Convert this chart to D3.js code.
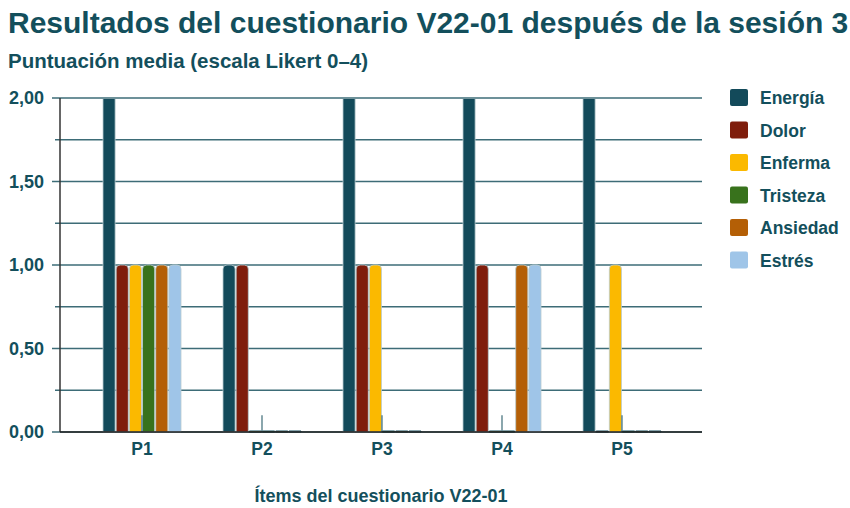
<!DOCTYPE html>
<html>
<head>
<meta charset="utf-8">
<script src="https://cdn.jsdelivr.net/npm/d3@7"></script>
<style>
  body { margin: 0; background: #fff; }
  text { font-family: "Liberation Sans", Arial, sans-serif; font-weight: bold; fill: #134f5c; }
</style>
</head>
<body>
<script>
let width = 850
let height = 508

// data (Energía bars run past the top of the axis)
let items = ["P1", "P2", "P3", "P4", "P5"]
let series = ["Energía", "Dolor", "Enferma", "Tristeza", "Ansiedad", "Estrés"]
let colors = ["#134a5a", "#7f1d0c", "#fbb900", "#38721c", "#b45f06", "#9fc5e8"]
let energia  = [3, 1, 3, 3, 3]
let dolor    = [1, 1, 1, 1, 0]
let enferma  = [1, 0, 1, 0, 1]
let tristeza = [1, 0, 0, 0, 0]
let ansiedad = [1, 0, 0, 1, 0]
let estres   = [1, 0, 0, 1, 0]
let yTicks = [0, 0.5, 1, 1.5, 2]
let yMinor = [0.25, 0.75, 1.25, 1.75]

let values = [energia, dolor, enferma, tristeza, ansiedad, estres]

let svg = d3.select("body")
    .append("svg")
    .attr("width", width)
    .attr("height", height)

let pLeft = 60, pRight = 702, pTop = 98, pBottom = 432

let x = d3.scaleBand()
    .domain(items)
    .range([81, 681])

let xs = d3.scaleBand()
    .domain(series)
    .range([0, 78])
    .paddingInner(0.08)

let y = d3.scaleLinear()
    .domain([0, 2])
    .range([pBottom, pTop])

// title
svg.append("text")
    .attr("x", 8).attr("y", 33)
    .attr("font-size", 30)
    .text("Resultados del cuestionario V22-01 después de la sesión 3")

svg.append("text")
    .attr("x", 8).attr("y", 68)
    .attr("font-size", 20.5)
    .text("Puntuación media (escala Likert 0–4)")

// grid lines
svg.selectAll(".major")
    .data(yTicks)
    .enter()
    .append("line")
    .attr("x1", 52).attr("x2", pRight)
    .attr("y1", d => y(d)).attr("y2", d => y(d))
    .attr("stroke", "#3d6c77")
    .attr("stroke-width", 1.5)

svg.selectAll(".minor")
    .data(yMinor)
    .enter()
    .append("line")
    .attr("x1", 55).attr("x2", pRight)
    .attr("y1", d => y(d)).attr("y2", d => y(d))
    .attr("stroke", "#3d6c77")
    .attr("stroke-width", 1.5)

svg.selectAll(".ylab")
    .data(yTicks)
    .enter()
    .append("text")
    .attr("x", 44)
    .attr("y", d => y(d) + 6)
    .attr("text-anchor", "end")
    .attr("font-size", 18)
    .text(d => d3.format(".2f")(d).replace(".", ","))

svg.append("clipPath").attr("id", "plot")
    .append("rect")
    .attr("x", pLeft).attr("y", pTop + 1)
    .attr("width", pRight - pLeft).attr("height", pBottom - pTop)

let g = svg.append("g").attr("clip-path", "url(#plot)")

let cells = []
items.forEach((it, i) => {
    series.forEach((s, j) => {
        cells.push({ item: it, s: s, v: values[j][i], c: colors[j] })
    })
})

let r = 4
g.selectAll("path")
    .data(cells)
    .enter()
    .append("path")
    .attr("fill", d => d.c)
    .attr("stroke", d => d.v > 0 ? "#b9ccd1" : "#134a5a")
    .attr("stroke-width", d => d.v > 0 ? 0.8 : 1)
    .attr("d", function(d) {
        let x0 = x(d.item) + (x.bandwidth() - 78) / 2 + xs(d.s) + 1
        let w = xs.bandwidth()
        let y0 = y(d.v)
        if (d.v <= 0) {
            return `M${x0},${pBottom - 1}h${w}v1h${-w}Z`
        }
        return `M${x0},${pBottom}V${y0 + r}Q${x0},${y0} ${x0 + r},${y0}H${x0 + w - r}Q${x0 + w},${y0} ${x0 + w},${y0 + r}V${pBottom}Z`
    })

// small centre ticks of the categories
svg.selectAll(".ctick")
    .data(items)
    .enter()
    .append("line")
    .attr("x1", d => x(d) + x.bandwidth() / 2 + 1)
    .attr("x2", d => x(d) + x.bandwidth() / 2 + 1)
    .attr("y1", y(0.1)).attr("y2", pBottom)
    .attr("stroke", "#3d6c77")
    .attr("stroke-width", 1.2)

// axes lines
svg.append("line")
    .attr("x1", pLeft).attr("x2", pLeft)
    .attr("y1", pTop).attr("y2", pBottom)
    .attr("stroke", "#333")
    .attr("stroke-width", 1.5)

svg.append("line")
    .attr("x1", pLeft).attr("x2", pRight)
    .attr("y1", pBottom).attr("y2", pBottom)
    .attr("stroke", "#222")
    .attr("stroke-width", 1.5)

svg.selectAll(".xlab")
    .data(items)
    .enter()
    .append("text")
    .attr("x", d => x(d) + x.bandwidth() / 2 + 1)
    .attr("y", 455)
    .attr("text-anchor", "middle")
    .attr("font-size", 17.5)
    .text(d => d)

svg.append("text")
    .attr("x", 381).attr("y", 502)
    .attr("text-anchor", "middle")
    .attr("font-size", 18)
    .text("Ítems del cuestionario V22-01")

// legend
let legend = svg.selectAll(".leg")
    .data(series)
    .enter()
    .append("g")
    .attr("transform", (d, i) => `translate(730,${89 + i * 32.5})`)

legend.append("rect")
    .attr("width", 18).attr("height", 17)
    .attr("rx", 2)
    .attr("fill", (d, i) => colors[i])

legend.append("text")
    .attr("x", 30).attr("y", 15)
    .attr("font-size", 17.5)
    .text(d => d)
</script>
</body>
</html>
